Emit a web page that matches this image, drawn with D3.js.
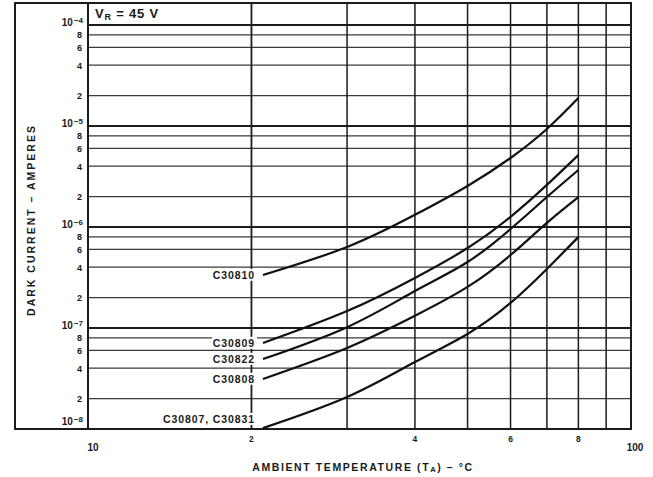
<!DOCTYPE html>
<html><head><meta charset="utf-8">
<script src="https://cdn.jsdelivr.net/npm/d3@7"></script>
<style>
html,body{margin:0;padding:0;background:#fff;}
svg{display:block;}
text{font-family:"Liberation Sans",Arial,sans-serif;fill:#1a1a1a;}
</style></head>
<body>
<script>
// ---- data ----
const temps = [21, 30, 40, 50, 60, 70, 80];
const C30810 = [3.35e-7, 6.34e-7, 1.32e-6, 2.55e-6, 4.82e-6, 9.33e-6, 1.89e-5];
const C30809 = [7.1e-8, 1.47e-7, 3.13e-7, 6.19e-7, 1.26e-6, 2.61e-6, 5.16e-6];
const C30822 = [4.93e-8, 1.02e-7, 2.32e-7, 4.5e-7, 9.55e-7, 1.98e-6, 3.67e-6];
const C30808 = [3.13e-8, 6.34e-8, 1.32e-7, 2.55e-7, 5.28e-7, 1.10e-6, 1.98e-6];
const C30807 = [1.02e-8, 2.07e-8, 4.6e-8, 8.73e-8, 1.77e-7, 3.84e-7, 7.96e-7];
const seriesNames = ["C30810", "C30809", "C30822", "C30808", "C30807, C30831"];
const xGrid = [20, 30, 40, 50, 60, 70, 80, 90];
const xTickValues = [10, 20, 40, 60, 80, 100];
const xTickLabels = ["10", "2", "4", "6", "8", "100"];
const yDecades = [1e-8, 1e-7, 1e-6, 1e-5, 1e-4];
const yDecadeLabels = ["−8", "−7", "−6", "−5", "−4"];
const yMinorMult = [2, 4, 6, 8];
const title = "V";
const titleSub = "R";
const titleRest = " = 45 V";
const xTitle = ["AMBIENT TEMPERATURE (T", "A", ") – °C"];
const yTitle = "DARK CURRENT – AMPERES";

const W = 653, H = 477;
const svg = d3.select("body").append("svg").attr("width", W).attr("height", H);

const x = d3.scaleLog().domain([10, 100]).range([88, 631]);
const y = d3.scaleLog().domain([1e-8, 1e-4]).range([429, 25]);
const frameTop = 3, frameLeft = 15;

const ink = "#1c1c1c";

// horizontal grid
const yMinor = [];
yDecades.slice(0, 4).forEach(d => yMinorMult.forEach(m => yMinor.push(d * m)));
svg.append("g").selectAll("line").data(yMinor).join("line")
  .attr("x1", x(10)).attr("x2", x(100))
  .attr("y1", d => y(d)).attr("y2", d => y(d))
  .attr("stroke", "#3a3a3a").attr("stroke-width", 1.3);
svg.append("g").selectAll("line").data(yDecades.slice(1)).join("line")
  .attr("x1", x(10)).attr("x2", x(100))
  .attr("y1", d => y(d)).attr("y2", d => y(d))
  .attr("stroke", ink).attr("stroke-width", 2);

// vertical grid
svg.append("g").selectAll("line").data(xGrid).join("line")
  .attr("x1", d => x(d)).attr("x2", d => x(d))
  .attr("y1", frameTop).attr("y2", y(1e-8))
  .attr("stroke", ink).attr("stroke-width", d => d === 20 ? 1.8 : 1.5);

// frame
svg.append("rect").attr("x", frameLeft).attr("y", frameTop)
  .attr("width", x(100) - frameLeft).attr("height", y(1e-8) - frameTop)
  .attr("fill", "none").attr("stroke", ink).attr("stroke-width", 2);
svg.append("line").attr("x1", x(10)).attr("x2", x(10))
  .attr("y1", frameTop).attr("y2", y(1e-8))
  .attr("stroke", ink).attr("stroke-width", 2);

// curves
const allSeries = [C30810, C30809, C30822, C30808, C30807];
const line = d3.line().x((d, i) => x(temps[i])).y(d => y(d)).curve(d3.curveNatural);
svg.append("g").selectAll("path").data(allSeries).join("path")
  .attr("d", d => line(d)).attr("fill", "none")
  .attr("stroke", "#111").attr("stroke-width", 2.2);

// curve labels with white background
const lblG = svg.append("g");
allSeries.forEach((s, i) => {
  const yy = y(s[0]) + (i === 4 ? -8 : 1);
  const t = lblG.append("text").attr("x", x(temps[0]) - 8).attr("y", yy)
    .attr("text-anchor", "end").attr("dominant-baseline", "middle")
    .attr("font-size", 10.5).attr("font-weight", "bold").attr("letter-spacing", 0.9)
    .text(seriesNames[i]);
  const bb = t.node().getBBox();
  lblG.insert("rect", "text").attr("x", bb.x - 1).attr("y", bb.y)
    .attr("width", bb.width + 3).attr("height", bb.height).attr("fill", "#fff");
});

// y tick labels
yDecades.forEach((d, i) => {
  const t = svg.append("text").attr("x", 83).attr("y", y(d) + (i === 0 ? -7 : -2))
    .attr("text-anchor", "end").attr("dominant-baseline", "middle")
    .attr("font-size", 10).attr("font-weight", "bold");
  t.append("tspan").text("10");
  t.append("tspan").attr("font-size", 8).attr("dy", -2).attr("dx", 1).text(yDecadeLabels[i]);
});
svg.append("g").selectAll("text").data(yMinor).join("text")
  .attr("x", 82).attr("y", d => y(d) + 1)
  .attr("text-anchor", "end").attr("dominant-baseline", "middle")
  .attr("font-size", 9).attr("font-weight", "bold")
  .text(d => Math.round(d / Math.pow(10, Math.floor(Math.log10(d) + 1e-9))));

// x tick labels
svg.append("g").selectAll("text").data(xTickValues).join("text")
  .attr("x", (d, i) => x(d) + (i === 0 ? 5 : i === xTickValues.length - 1 ? 4 : 0))
  .attr("y", (d, i) => (i === 0 || i === xTickValues.length - 1) ? 448 : 440)
  .attr("text-anchor", "middle").attr("dominant-baseline", "middle")
  .attr("font-size", (d, i) => (i === 0 || i === xTickValues.length - 1) ? 10 : 8.5)
  .attr("font-weight", "bold")
  .text((d, i) => xTickLabels[i]);

// x title
const xt = svg.append("text").attr("x", 363).attr("y", 468)
  .attr("text-anchor", "middle").attr("dominant-baseline", "middle")
  .attr("font-size", 10.5).attr("font-weight", "bold").attr("letter-spacing", 1.6);
xt.append("tspan").text(xTitle[0]);
xt.append("tspan").attr("font-size", 7.5).attr("dy", 2).text(xTitle[1]);
xt.append("tspan").attr("dy", -2).text(xTitle[2]);

// y title
svg.append("text").attr("transform", "translate(32,220) rotate(-90)")
  .attr("text-anchor", "middle").attr("dominant-baseline", "middle")
  .attr("font-size", 10.5).attr("font-weight", "bold").attr("letter-spacing", 2)
  .text(yTitle);

// chart title
const tt = svg.append("text").attr("x", 95).attr("y", 15)
  .attr("dominant-baseline", "middle")
  .attr("font-size", 13).attr("font-weight", "bold").attr("letter-spacing", 0.8);
tt.append("tspan").text(title);
tt.append("tspan").attr("font-size", 9).attr("dy", 3).text(titleSub);
tt.append("tspan").attr("dy", -3).text(titleRest);
</script>
</body></html>
